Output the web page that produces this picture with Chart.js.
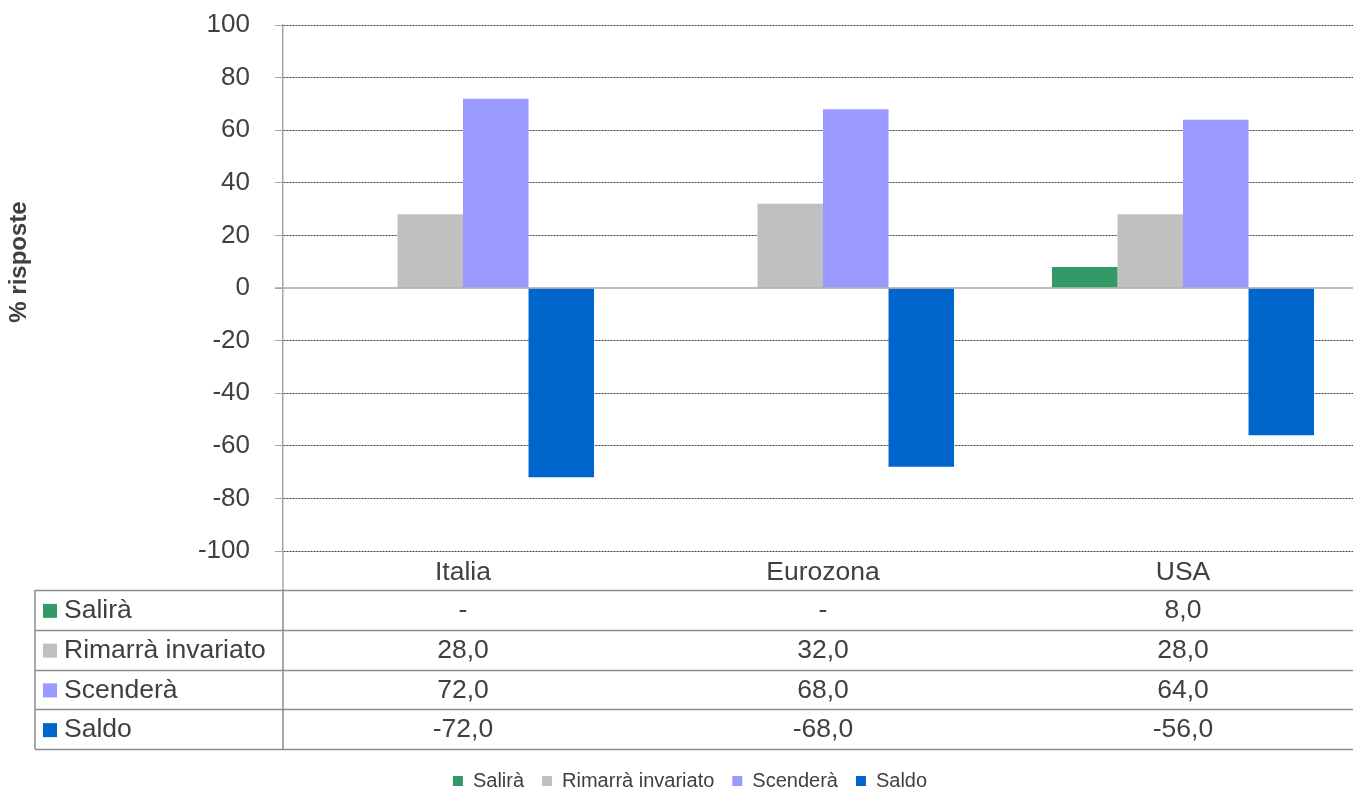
<!DOCTYPE html>
<html>
<head>
    <title>% risposte</title>
    <script src="https://cdn.jsdelivr.net/npm/chart.js"></script>
    <style>
        html, body {
            margin: 0;
            padding: 0;
            overflow: hidden;
            background: #ffffff;
        }
        .chart-wrap {
            width: 1380px;
            height: 801px;
        }
    </style>
</head>
<body>
    <div class="chart-wrap">
        <canvas id="chart" width="1380" height="801"></canvas>
    </div>

    <script>
        const categories = ['Italia', 'Eurozona', 'USA'];
        const salira = [0, 0, 8];
        const rimarra = [28, 32, 28];
        const scendera = [72, 68, 64];
        const saldo = [-72, -68, -56];
        const seriesNames = ['Salirà', 'Rimarrà invariato', 'Scenderà', 'Saldo'];
        const seriesColors = ['#339966', '#c0c0c0', '#9999ff', '#0066cc'];
        const yTicks = [-100, -80, -60, -40, -20, 0, 20, 40, 60, 80, 100];

        const FONT = "'Liberation Sans', Arial, sans-serif";
        const TEXT = '#404040';

        // number format like the source: 28,0 and "-" for zero
        function fmt(v) {
            if (v === 0) return '-';
            return v.toFixed(1).replace('.', ',');
        }

        // data table under the plot + zero line + y title
        const tablePlugin = {
            id: 'dataTable',
            afterDatasetsDraw(chart) {
                const ctx = chart.ctx;
                const y = chart.scales.y;
                const area = chart.chartArea;
                const y0 = y.getPixelForValue(0);
                ctx.save();
                ctx.strokeStyle = '#a6a6a6';
                ctx.lineWidth = 1.5;
                ctx.beginPath();
                ctx.moveTo(area.left - 8, y0);
                ctx.lineTo(chart.width, y0);
                ctx.stroke();
                ctx.restore();
            },
            afterDraw(chart) {
                const ctx = chart.ctx;
                const x = chart.scales.x;
                const area = chart.chartArea;
                const tableLeft = 35;
                const top = x.top + 39;
                const rowH = 39.75;
                const rows = [salira, rimarra, scendera, saldo];

                ctx.save();
                // axis continues through the header row
                ctx.strokeStyle = '#a6a6a6';
                ctx.lineWidth = 1.5;
                ctx.beginPath();
                ctx.moveTo(area.left, area.bottom);
                ctx.lineTo(area.left, top);
                ctx.stroke();

                ctx.strokeStyle = '#8c8c8c';
                ctx.lineWidth = 1.5;
                ctx.beginPath();
                for (let r = 0; r <= rows.length; r++) {
                    const ly = Math.round(top + r * rowH) + 0.5;
                    ctx.moveTo(tableLeft, ly);
                    ctx.lineTo(chart.width, ly);
                }
                ctx.moveTo(tableLeft, top);
                ctx.lineTo(tableLeft, top + rows.length * rowH);
                ctx.moveTo(area.left, top);
                ctx.lineTo(area.left, top + rows.length * rowH);
                ctx.stroke();

                ctx.font = '26.5px ' + FONT;
                ctx.textBaseline = 'middle';
                rows.forEach((vals, r) => {
                    const cy = top + r * rowH + rowH / 2 + 1;
                    ctx.fillStyle = seriesColors[r];
                    ctx.fillRect(43, cy - 7, 14, 14);
                    ctx.fillStyle = TEXT;
                    ctx.textAlign = 'left';
                    ctx.fillText(seriesNames[r], 64, cy);
                    ctx.textAlign = 'center';
                    vals.forEach((v, i) => {
                        ctx.fillText(fmt(v), x.getPixelForValue(i), cy);
                    });
                });

                // y axis title
                ctx.translate(19, 262);
                ctx.rotate(-Math.PI / 2);
                ctx.font = 'bold 24px ' + FONT;
                ctx.fillStyle = TEXT;
                ctx.textAlign = 'center';
                ctx.textBaseline = 'middle';
                ctx.fillText('% risposte', 0, 0);
                ctx.restore();
            }
        };

        const ctx = document.getElementById('chart').getContext('2d');
        new Chart(ctx, {
            type: 'bar',
            data: {
                labels: categories,
                datasets: [salira, rimarra, scendera, saldo].map((d, i) => ({
                    label: seriesNames[i],
                    data: d,
                    backgroundColor: seriesColors[i],
                    borderWidth: 0,
                    categoryPercentage: 0.728,
                    barPercentage: 1
                }))
            },
            options: {
                responsive: false,
                animation: false,
                layout: {
                    padding: { top: 25, left: 17, right: 17, bottom: 0 }
                },
                plugins: {
                    tooltip: { enabled: false },
                    legend: {
                        position: 'bottom',
                        labels: {
                            font: { family: FONT, size: 20 },
                            color: TEXT,
                            boxWidth: 10,
                            boxHeight: 10,
                            padding: 18
                        }
                    }
                },
                scales: {
                    x: {
                        afterFit(scale) { scale.height = 202; },
                        grid: { display: false, drawTicks: false },
                        border: { display: false },
                        ticks: {
                            font: { family: FONT, size: 26.5 },
                            color: TEXT,
                            padding: 6
                        }
                    },
                    y: {
                        min: -100,
                        max: 100,
                        afterFit(scale) {
                            scale.width = 266;
                            scale.paddingTop = 0;
                            scale.paddingBottom = 0;
                        },
                        afterBuildTicks(scale) {
                            scale.ticks = yTicks.map(v => ({ value: v }));
                        },
                        grid: {
                            color: c => (c.tick && c.tick.value === 0) ? 'rgba(0,0,0,0)' : '#404040',
                            lineWidth: 1,
                            tickLength: 8,
                            tickColor: '#a6a6a6',
                            tickBorderDash: []
                        },
                        border: {
                            display: true,
                            color: '#a6a6a6',
                            width: 1.5,
                            dash: [2, 1]
                        },
                        ticks: {
                            font: { family: FONT, size: 26 },
                            color: TEXT,
                            padding: 25
                        }
                    }
                }
            },
            plugins: [tablePlugin]
        });
    </script>
</body>
</html>
